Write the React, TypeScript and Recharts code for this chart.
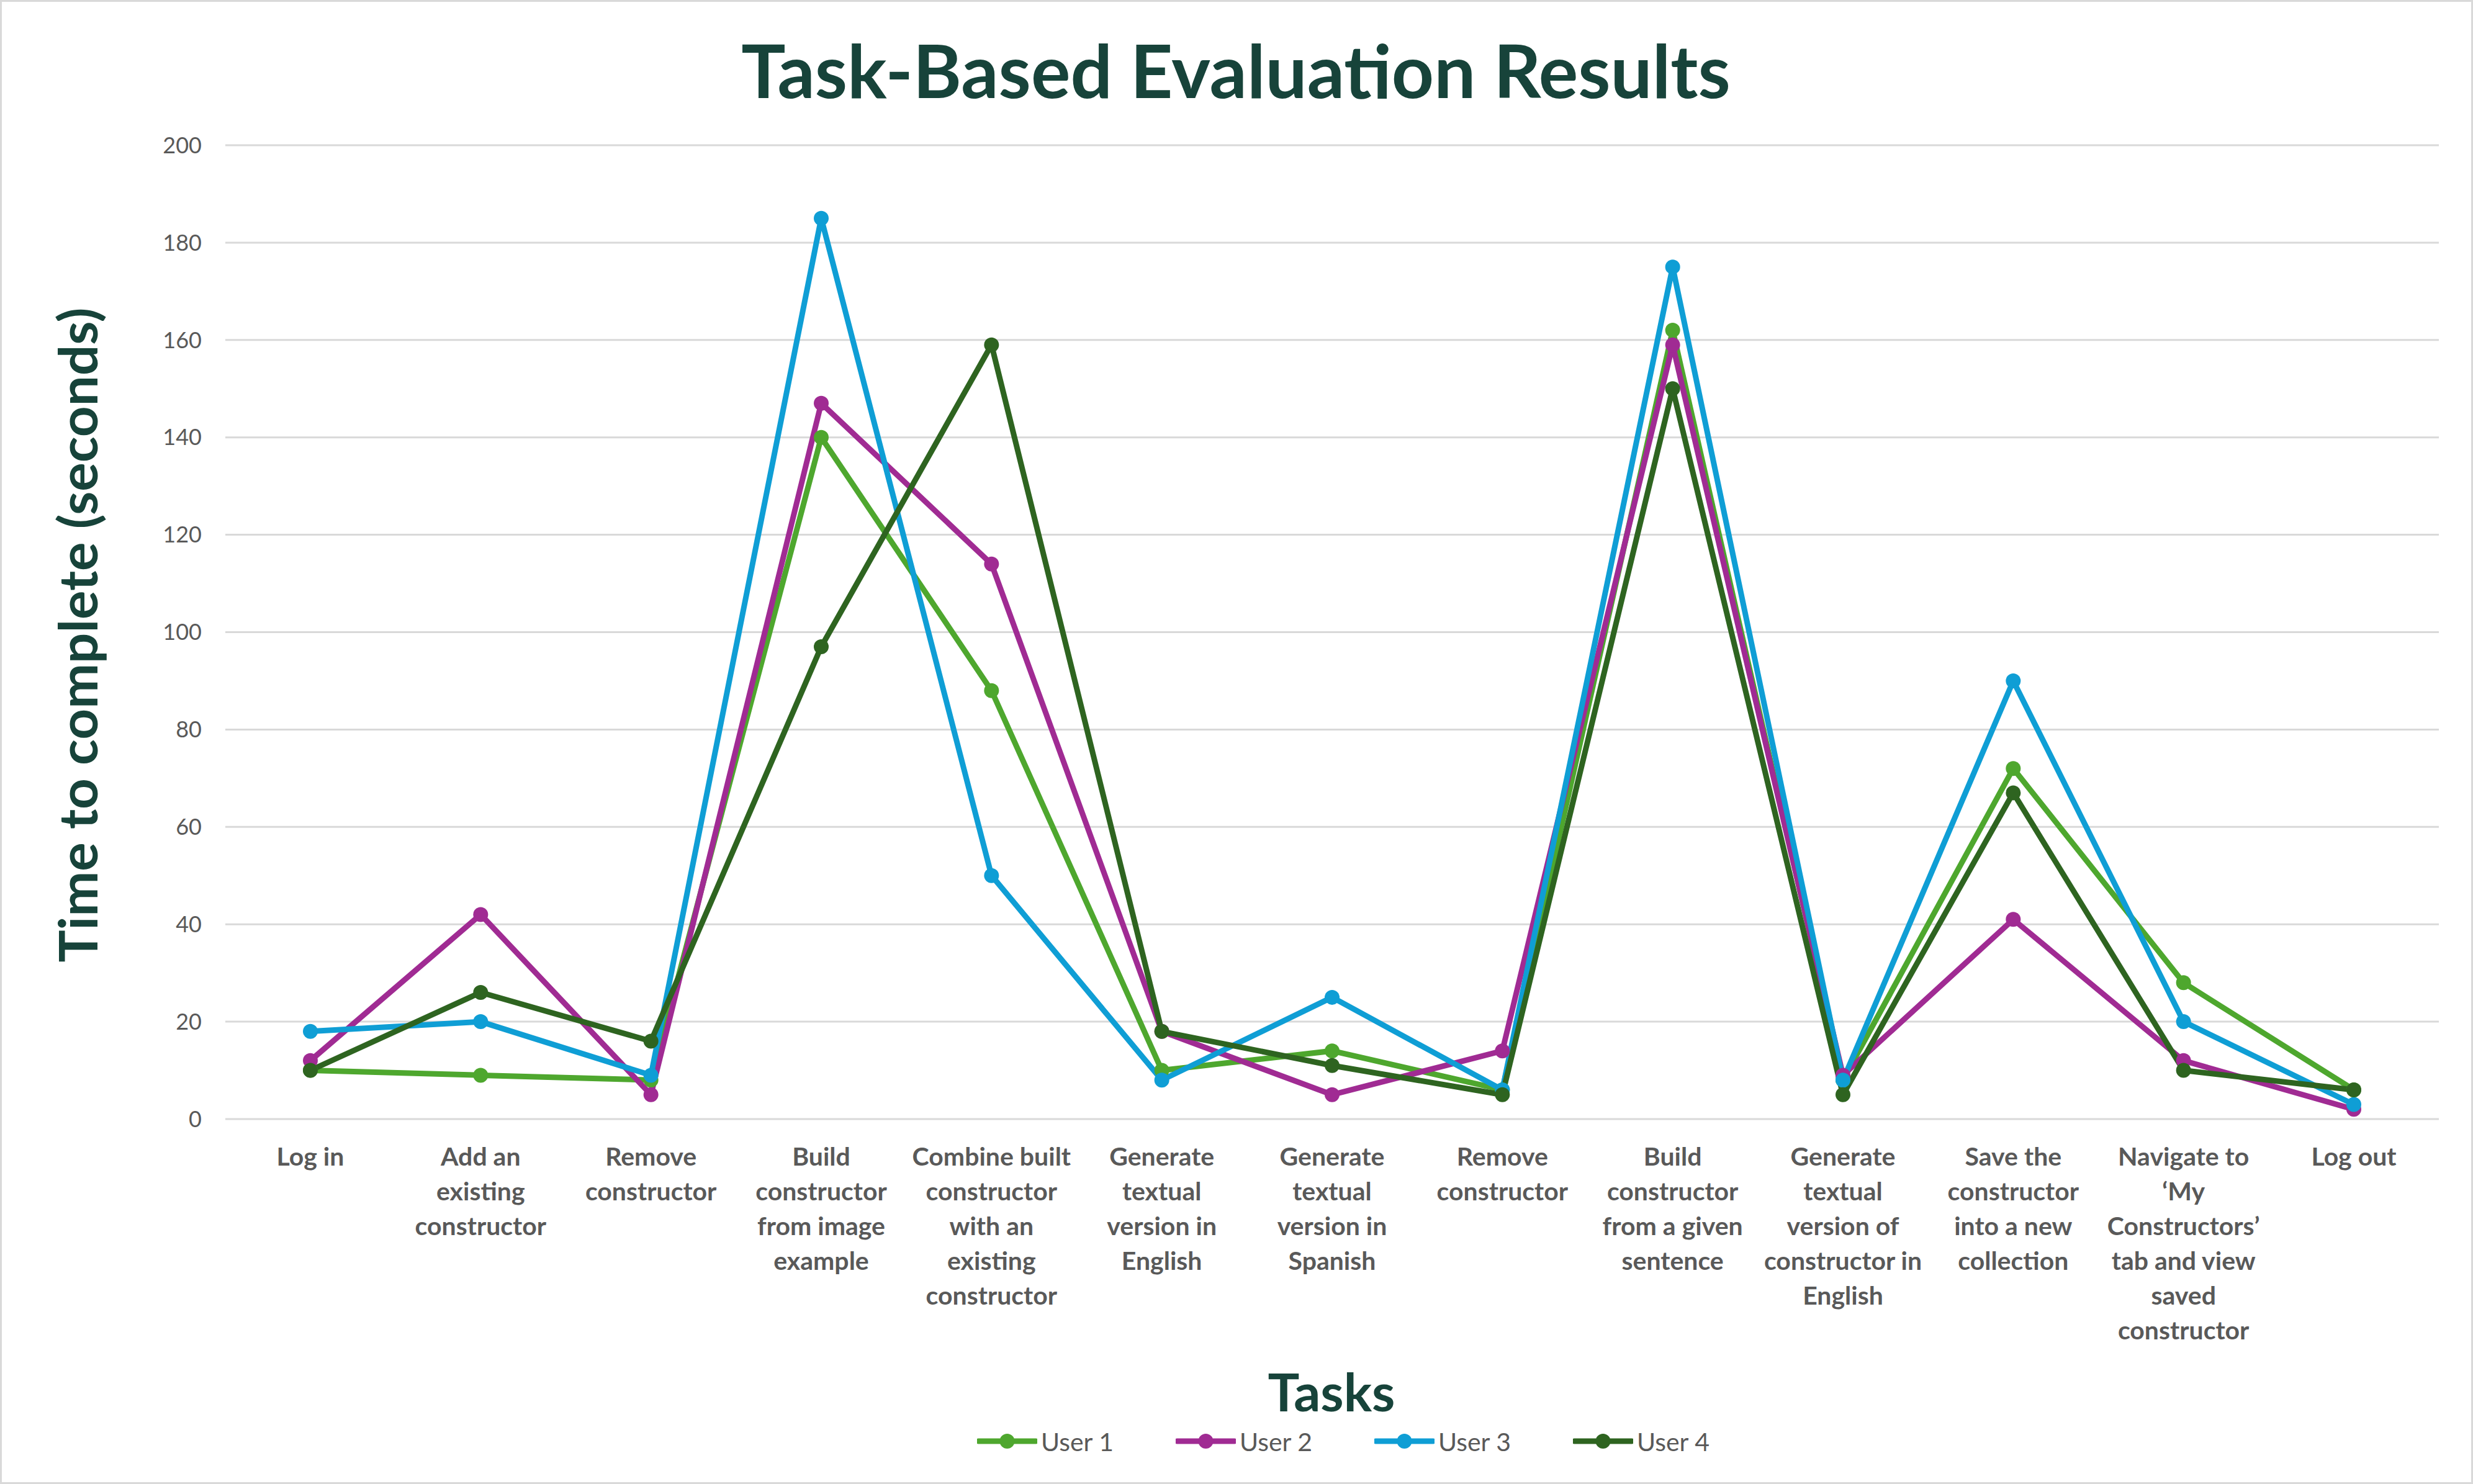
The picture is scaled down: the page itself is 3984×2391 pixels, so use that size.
import { CartesianGrid, Line, LineChart, XAxis, YAxis } from "recharts";

const tasks = [
  "Log in",
  "Add an\nexisting\nconstructor",
  "Remove\nconstructor",
  "Build\nconstructor\nfrom image\nexample",
  "Combine built\nconstructor\nwith an\nexisting\nconstructor",
  "Generate\ntextual\nversion in\nEnglish",
  "Generate\ntextual\nversion in\nSpanish",
  "Remove\nconstructor",
  "Build\nconstructor\nfrom a given\nsentence",
  "Generate\ntextual\nversion of\nconstructor in\nEnglish",
  "Save the\nconstructor\ninto a new\ncollection",
  "Navigate to\n\u2018My\nConstructors\u2019\ntab and view\nsaved\nconstructor",
  "Log out",
];

const user1 = [10, 9, 8, 140, 88, 10, 14, 6, 162, 8, 72, 28, 6];
const user2 = [12, 42, 5, 147, 114, 18, 5, 14, 159, 9, 41, 12, 2];
const user3 = [18, 20, 9, 185, 50, 8, 25, 6, 175, 8, 90, 20, 3];
const user4 = [10, 26, 16, 97, 159, 18, 11, 5, 150, 5, 67, 10, 6];

const seriesNames = ["User 1", "User 2", "User 3", "User 4"];
const seriesColors = ["#4EA72E", "#A02B93", "#0F9ED5", "#2E6420"];
const yTicks = [0, 20, 40, 60, 80, 100, 120, 140, 160, 180, 200];

const W = 3984;
const H = 2391;
const FONT = "Lato, 'Open Sans', sans-serif";
const TITLE_COLOR = "#17433A";

const data = tasks.map((task, i) => ({
  task,
  u1: user1[i],
  u2: user2[i],
  u3: user3[i],
  u4: user4[i],
}));
const keys = ["u1", "u2", "u3", "u4"];

function TaskTick({ x, y, payload }: any) {
  const lines = String(payload.value).split("\n");
  return (
    <text x={x} y={y} textAnchor="middle" fill="#595959" fontSize={41} fontWeight={700} fontFamily={FONT}>
      {lines.map((l, i) => (
        <tspan key={i} x={x} dy={i === 0 ? 75 : 56}>
          {l}
        </tspan>
      ))}
    </text>
  );
}

export default function App() {
  return (
    <div
      style={{
        position: "absolute",
        left: 0,
        top: 0,
        width: W,
        height: H,
        background: "#fff",
        border: "3px solid #d9d9d9",
        boxSizing: "border-box",
        fontFamily: FONT,
      }}
    >
      <div
        style={{
          position: "absolute",
          left: 0,
          width: W,
          top: 34,
          textAlign: "center",
          fontSize: 119,
          fontWeight: 700,
          color: TITLE_COLOR,
          lineHeight: "150px",
        }}
      >
        <span style={{ position: "relative", left: -4 }}>Task-Based Evaluation Results</span>
      </div>
      <div
        style={{
          position: "absolute",
          left: 121 - 600,
          top: 1020 - 50,
          width: 1200,
          height: 100,
          lineHeight: "100px",
          textAlign: "center",
          transform: "rotate(-90deg)",
          fontSize: 87,
          fontWeight: 700,
          color: TITLE_COLOR,
        }}
      >
        Time to complete (seconds)
      </div>
      <LineChart
        width={W - 6}
        height={H - 6}
        data={data}
        margin={{ top: 231, right: 52, left: 260, bottom: 185 }}
      >
        <CartesianGrid vertical={false} stroke="#d9d9d9" strokeWidth={3} />
        <XAxis
          dataKey="task"
          interval={0}
          axisLine={false}
          tickLine={false}
          tickSize={0}
          tickMargin={0}
          height={400}
          padding={{ left: 137, right: 137 }}
          tick={<TaskTick />}
        />
        <YAxis
          domain={[0, 200]}
          ticks={yTicks}
          interval={0}
          axisLine={false}
          tickLine={false}
          tickSize={0}
          tickMargin={38}
          width={100}
          tick={{ fill: "#595959", fontSize: 36, fontFamily: FONT }}
        />
        {keys.map((k, i) => (
          <Line
            key={k}
            dataKey={k}
            name={seriesNames[i]}
            type="linear"
            stroke={seriesColors[i]}
            strokeWidth={9}
            dot={{ r: 12, fill: seriesColors[i], stroke: seriesColors[i], strokeWidth: 0 }}
            activeDot={false}
            isAnimationActive={false}
          />
        ))}
      </LineChart>
      <div
        style={{
          position: "absolute",
          left: 0,
          width: W,
          top: 2193,
          textAlign: "center",
          fontSize: 85,
          fontWeight: 700,
          color: TITLE_COLOR,
          lineHeight: "90px",
        }}
      >
        <span style={{ position: "relative", left: 150 }}>Tasks</span>
      </div>
      <div
        style={{
          position: "absolute",
          left: 1571,
          top: 2294,
          height: 50,
          display: "flex",
          alignItems: "center",
        }}
      >
        {seriesNames.map((name, i) => (
          <div key={name} style={{ display: "flex", alignItems: "center", width: 320 }}>
            <svg width={97} height={30}>
              <line x1={2} y1={15} x2={95} y2={15} stroke={seriesColors[i]} strokeWidth={9} strokeLinecap="round" />
              <circle cx={48.5} cy={15} r={12} fill={seriesColors[i]} />
            </svg>
            <span style={{ marginLeft: 6, fontSize: 41, color: "#595959" }}>{name}</span>
          </div>
        ))}
      </div>
    </div>
  );
}
